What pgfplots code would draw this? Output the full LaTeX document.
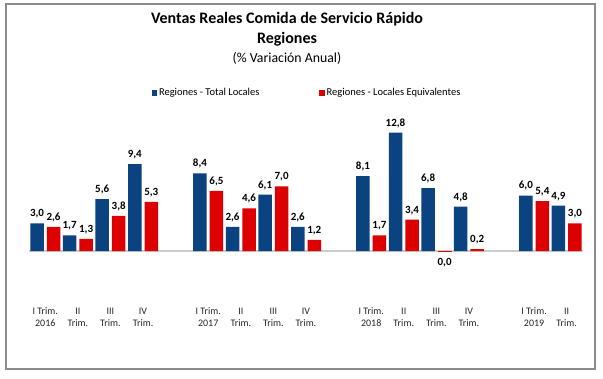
\documentclass[border=0pt]{standalone}
\usepackage{pgfplots}
\usepackage{pgfplotstable}
\pgfplotsset{compat=1.18}
\usepackage{fontspec}
\setmainfont{Carlito}
\definecolor{cblue}{RGB}{11,66,128}
\definecolor{cred}{RGB}{220,0,0}
\pgfplotstableread{
x y lbl
0 3.0 3,0
1 1.7 1,7
2 5.6 5,6
3 9.4 9,4
5 8.4 8,4
6 2.6 2,6
7 6.1 6,1
8 2.6 2,6
10 8.1 8,1
11 12.8 12,8
12 6.8 6,8
13 4.8 4,8
15 6.0 6,0
16 4.9 4,9
}\total
\pgfplotstableread{
x y lbl
0 2.6 2,6
1 1.3 1,3
2 3.8 3,8
3 5.3 5,3
5 6.5 6,5
6 4.6 4,6
7 7.0 7,0
8 1.2 1,2
10 1.7 1,7
11 3.4 3,4
13 0.2 0,2
15 5.4 5,4
16 3.0 3,0
}\equiv
\pgfplotstableread{
x y lbl
12 -0.03 0,0
}\equivzero
\begin{document}
\begin{tikzpicture}
\draw[black!45, line width=1.2pt] (6pt,9pt) rectangle (595pt,374pt);
\node[font=\fontsize{16}{19}\selectfont\bfseries] at (287pt,359pt) {Ventas Reales Comida de Servicio Rápido};
\node[font=\fontsize{16}{19}\selectfont\bfseries] at (287pt,339pt) {Regiones};
\node[font=\fontsize{13.8}{16}\selectfont] at (287pt,320pt) {(\% Variación Anual)};
\begin{axis}[
  at={(29pt,76.1pt)}, anchor=south west,
  scale only axis, width=554pt, height=180.4pt,
  xmin=-0.5, xmax=16.5, ymin=-5.5, ymax=14,
  ybar, bar width=13.5pt,
  axis line style={draw=none}, tick style={draw=none},
  ytick=\empty,
  xtick={0,1,2,3,5,6,7,8,10,11,12,13,15,16},
  xticklabels={{I Trim.\\2016},{II\\Trim.},{III\\Trim.},{IV\\Trim.},
               {I Trim.\\2017},{II\\Trim.},{III\\Trim.},{IV\\Trim.},
               {I Trim.\\2018},{II\\Trim.},{III\\Trim.},{IV\\Trim.},
               {I Trim.\\2019},{II\\Trim.}},
  xticklabel style={align=center, font=\fontsize{10}{12}\selectfont, text=black!85, yshift=2pt},
  clip=false,
  point meta=explicit symbolic,
  nodes near coords,
  nodes near coords style={font=\fontsize{11}{13}\selectfont\bfseries, text=black},
  legend style={at={(0.502,1.158)}, anchor=center, draw=none, fill=none,
     legend columns=2, font=\fontsize{10.5}{12}\selectfont,
     /tikz/every even column/.append style={column sep=58pt}},
  legend image code/.code={\fill[#1] (0pt,-2.6pt) rectangle (5.2pt,2.6pt);},
]
\draw[black!20, line width=1.3pt] (axis cs:-0.5,0) -- (axis cs:16.5,0);
\addplot[fill=cblue, draw=none, bar shift=-8.25pt, nodes near coords style={anchor=south, yshift=1.5pt}]
  table[x=x, y=y, meta=lbl] {\total};
\addlegendentry{Regiones - Total Locales}
\addplot[fill=cred, draw=none, bar shift=8.25pt, nodes near coords style={anchor=south, yshift=1.5pt}]
  table[x=x, y=y, meta=lbl] {\equiv};
\addlegendentry{Regiones - Locales Equivalentes}
\addplot[fill=cred, draw=cred, line width=0.6pt, bar shift=8.25pt, forget plot, nodes near coords style={anchor=north, yshift=-3pt}]
  table[x=x, y=y, meta=lbl] {\equivzero};
\end{axis}
\pgfresetboundingbox
\useasboundingbox (0pt,0pt) rectangle (603pt,378pt);
\end{tikzpicture}
\end{document}
